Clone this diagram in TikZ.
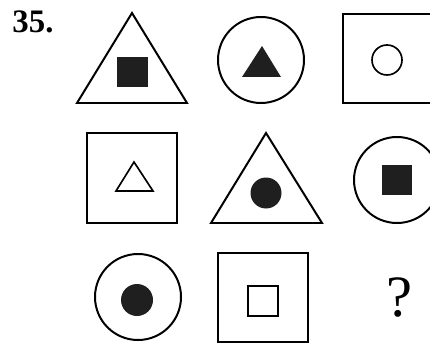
\documentclass[tikz,border=0pt]{standalone}
\usepackage{fontspec}
\setmainfont{Liberation Serif}

\begin{document}
\begin{tikzpicture}[
      x=0.03cm, y=-0.03cm,
      outer/.style={draw, line width=1.7pt, line join=miter},
      inner/.style={draw, line width=1.4pt},
      solid/.style={fill=black!88, draw=none},
      label/.style={inner sep=0pt, font=\bfseries\fontsize{28}{28}\selectfont},
      query/.style={inner sep=0pt, font=\fontsize{50}{50}\selectfont}
    ]
      \useasboundingbox (0,0) rectangle (430,343);
      \clip (0,0) rectangle (430,343);

      % number of the question
      \node[label] (num) at (33,22) {35.};

      % first row
      \draw[outer] (132,13) -- (187,103) -- (77,103) -- cycle;
      \fill[solid] (117,57) rectangle (148,87);

      \draw[outer] (261,60) circle (43);
      \fill[solid] (262,46) -- (281,77) -- (242,77) -- cycle;

      \draw[outer] (343,14) rectangle (440,103);
      \draw[inner] (387,60) circle (15);

      % second row
      \draw[outer] (87,133) rectangle (177,223);
      \draw[inner] (134,162) -- (153,191) -- (116,191) -- cycle;

      \draw[outer] (266,133) -- (322,223) -- (211,223) -- cycle;
      \fill[solid] (266,193) circle (15.5);

      \draw[outer] (397,180) circle (43);
      \fill[solid] (382,165) rectangle (412,195);

      % third row
      \draw[outer] (138,297) circle (43);
      \fill[solid] (137,300) circle (16);

      \draw[outer] (218,253) rectangle (308,342);
      \draw[inner] (248,286) rectangle (278,316);

      \node[query] (ask) at (399,298) {?};
    \end{tikzpicture}
\end{document}
